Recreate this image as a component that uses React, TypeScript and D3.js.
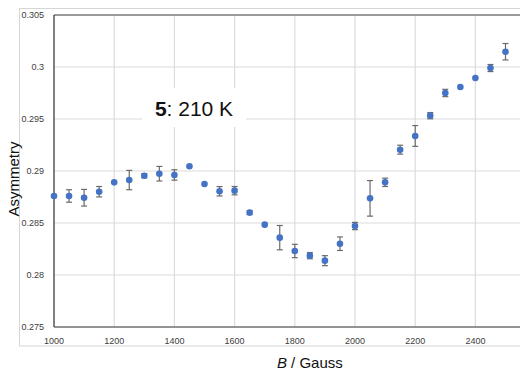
import React from "react";
import * as d3 from "d3";

// Applied field (Gauss), measured asymmetry and its uncertainty
const fields = [1000, 1050, 1100, 1150, 1200, 1250, 1300, 1350, 1400, 1450, 1500, 1550, 1600, 1650, 1700, 1750, 1800, 1850, 1900, 1950, 2000, 2050, 2100, 2150, 2200, 2250, 2300, 2350, 2400, 2450, 2500];
const asymmetry = [0.2876, 0.2876, 0.28743, 0.28801, 0.28891, 0.28913, 0.28955, 0.28974, 0.28962, 0.29045, 0.28875, 0.28805, 0.28811, 0.286, 0.28484, 0.28359, 0.28231, 0.28186, 0.28138, 0.28301, 0.28471, 0.28737, 0.28891, 0.29205, 0.29337, 0.29532, 0.2975, 0.29808, 0.29894, 0.2999, 0.30147];
const errors = [0, 0.0006, 0.0008, 0.0005, 0, 0.00093, 0.0002, 0.0007, 0.0005, 0, 0, 0.00045, 0.0004, 0.0002, 0, 0.00117, 0.00064, 0.0003, 0.00048, 0.00065, 0.00035, 0.00171, 0.0004, 0.00043, 0.001, 0.0003, 0.00035, 0, 0, 0.00034, 0.00079];

const xTicks = [1000, 1200, 1400, 1600, 1800, 2000, 2200, 2400];
const yTicks = [0.275, 0.28, 0.285, 0.29, 0.295, 0.3, 0.305];
const yTickLabels = ["0.275", "0.28", "0.285", "0.29", "0.295", "0.3", "0.305"];

const W = 520;
const H = 376;
const left = 54;
const top = 15;
const bottom = 327;

export default function App() {
  const x = d3.scaleLinear().domain([1000, 2600]).range([left, 535.6]);
  const y = d3.scaleLinear().domain([0.275, 0.305]).range([bottom, top]);
  const font = "'Liberation Sans', Arial, sans-serif";
  const tickColor = "#404040";

  return (
    <svg
      width={W}
      height={H}
      style={{ position: "absolute", left: 0, top: 0, background: "#fff" }}
      fontFamily={font}
    >
      {/* outer chart frame */}
      <rect x={19.5} y={8.5} width={W + 10} height={337.5} fill="none" stroke="#d6d6d6" strokeWidth={1} />

      {/* gridlines */}
      {xTicks.map((t) => (
        <line key={"gx" + t} x1={x(t)} x2={x(t)} y1={top} y2={bottom} stroke="#dcdcdc" strokeWidth={1.2} />
      ))}
      {yTicks.map((t) => (
        <line key={"gy" + t} x1={left} x2={W} y1={y(t)} y2={y(t)} stroke="#dcdcdc" strokeWidth={1.2} />
      ))}

      {/* axes */}
      <line x1={left} x2={W} y1={top} y2={top} stroke="#9a9a9a" strokeWidth={2} />
      <line x1={left} x2={left} y1={top} y2={bottom} stroke="#3a3a3a" strokeWidth={1.2} />
      <line x1={left} x2={W} y1={bottom} y2={bottom} stroke="#3a3a3a" strokeWidth={1.2} />

      {/* tick labels */}
      {yTicks.map((t, i) => (
        <text key={"ty" + t} x={44} y={y(t)} dy="0.35em" textAnchor="end" fontSize={9} fill={tickColor}>
          {yTickLabels[i]}
        </text>
      ))}
      {xTicks.map((t) => (
        <text key={"tx" + t} x={x(t)} y={343.5} textAnchor="middle" fontSize={9} fill={tickColor}>
          {t}
        </text>
      ))}

      {/* axis titles */}
      <text x={x(1850)} y={368} textAnchor="middle" fontSize={15} fill="#111">
        <tspan fontStyle="italic">B</tspan> / Gauss
      </text>
      <text
        transform={`translate(18.5, 179) rotate(-90)`}
        textAnchor="middle"
        fontSize={15}
        fill="#111"
      >
        Asymmetry
      </text>

      {/* annotation box */}
      <rect x={142} y={88} width={104} height={39} fill="#fff" />
      <text x={194} y={116} textAnchor="middle" fontSize={21} fill="#111">
        <tspan fontWeight="bold">5</tspan>: 210 K
      </text>

      {/* error bars */}
      {fields.map((f, i) =>
        errors[i] > 0 ? (
          <g key={"e" + f} stroke="#6b6b6b" strokeWidth={1.2}>
            <line x1={x(f)} x2={x(f)} y1={y(asymmetry[i] - errors[i])} y2={y(asymmetry[i] + errors[i])} />
            <line x1={x(f) - 3} x2={x(f) + 3} y1={y(asymmetry[i] - errors[i])} y2={y(asymmetry[i] - errors[i])} />
            <line x1={x(f) - 3} x2={x(f) + 3} y1={y(asymmetry[i] + errors[i])} y2={y(asymmetry[i] + errors[i])} />
          </g>
        ) : null
      )}

      {/* data points */}
      {fields.map((f, i) => (
        <circle key={"p" + f} cx={x(f)} cy={y(asymmetry[i])} r={3.3} fill="#4472c4" />
      ))}
    </svg>
  );
}
